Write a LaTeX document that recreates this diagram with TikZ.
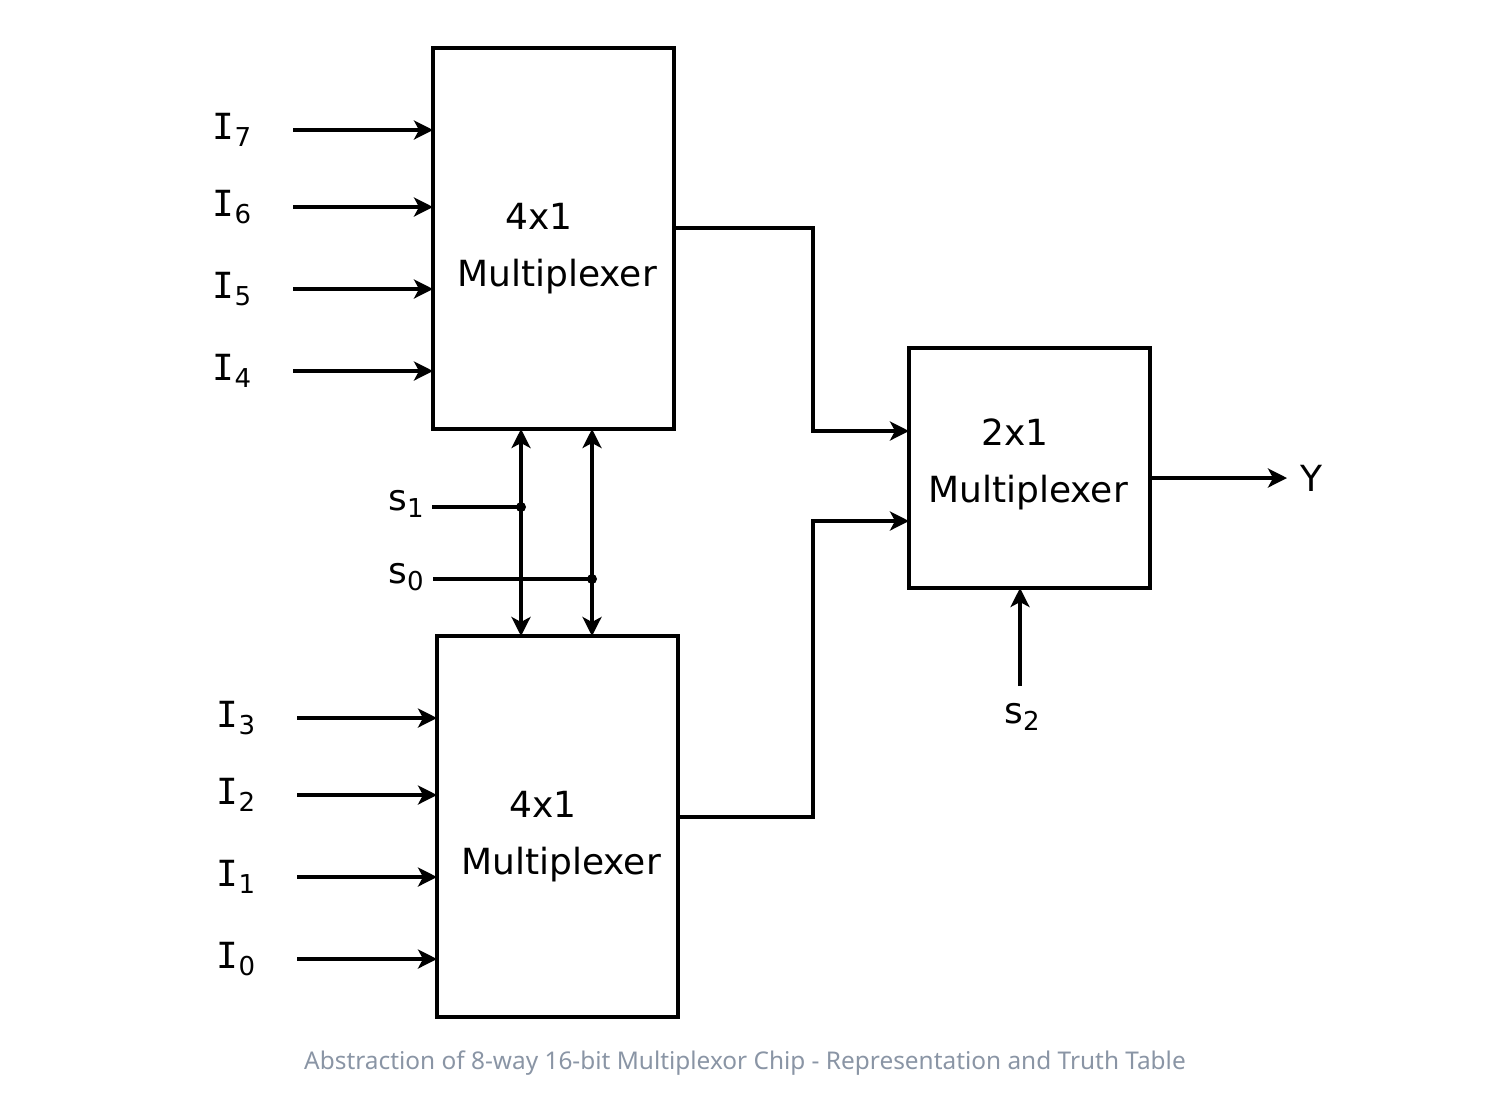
\documentclass[tikz,border=0pt]{standalone}
\usepackage{fontspec}
\setmainfont{DejaVu Sans}
\newfontfamily\capfont{Noto Sans}
\newfontfamily\serifi{DejaVu Sans Mono}
\usetikzlibrary{arrows.meta}
\definecolor{capgray}{HTML}{8A95A5}
\newcommand\sig[2]{#1\raisebox{-3.5pt}{\fontsize{13}{13}\selectfont #2}}
\begin{document}
\begin{tikzpicture}[x=0.5pt,y=-0.5pt,
  wire/.style={line width=1.8pt},
  arr/.style={wire,-{Stealth[length=9.5pt,width=9.5pt,inset=2.5pt]}},
  dblarr/.style={wire,{Stealth[length=9.5pt,width=9.5pt,inset=2.5pt]}-{Stealth[length=9.5pt,width=9.5pt,inset=2.5pt]}},
  muxbox/.style={draw,line width=1.8pt,inner sep=0pt,outer sep=0pt},
  txt/.style={font=\fontsize{18}{18}\selectfont,inner sep=0pt},
  lbl/.style={font=\fontsize{18}{18}\selectfont,inner sep=0pt},
  dot/.style={circle,fill,inner sep=0pt,minimum size=5pt}]
\useasboundingbox (0,0) rectangle (1502,1104);
% boxes
\node[muxbox,minimum width=120.5pt,minimum height=190.5pt] (top) at (553.5,238.5) {};
\node[muxbox,minimum width=120.5pt,minimum height=190.5pt] (bot) at (557.5,826.5) {};
\node[muxbox,minimum width=120.5pt,minimum height=120pt] (rgt) at (1029.5,468) {};
\node[txt] (t1) at (539,216) {4x1};
\node[txt] (t2) at (557,277) {Multiplexer};
\node[txt] (b1) at (543,804) {4x1};
\node[txt] (b2) at (561,865) {Multiplexer};
\node[txt] (r1) at (1015,432) {2x1};
\node[txt] (r2) at (1028,493) {Multiplexer};
% top inputs
\foreach \n/\y in {7/130,6/207,5/289,4/371}{
  \node[lbl] (I\n) at (232,\y) {\sig{{\serifi I}}{\n}};
  \coordinate (c\n) at (293,\y);
  \draw[arr] (c\n) -- (c\n -| top.west);
}
\foreach \n/\y in {3/718,2/795,1/877,0/959}{
  \node[lbl] (I\n) at (236,\y) {\sig{{\serifi I}}{\n}};
  \coordinate (c\n) at (297,\y);
  \draw[arr] (c\n) -- (c\n -| bot.west);
}
% outputs of 4x1 to 2x1
\coordinate (o1) at (674,228);
\coordinate (o2) at (678,817);
\coordinate (in1) at (909,431);
\coordinate (in2) at (909,521);
\draw[arr] (o1) -| (813,431) -- (in1);
\draw[arr] (o2) -| (813,521) -- (in2);
% output Y
\coordinate (yo) at (1150,478);
\coordinate (ye) at (1287,478);
\node[lbl,anchor=west] (Y) at (1300,478) {Y};
\draw[arr] (yo) -- (ye);
% s2
\node[lbl] (s2) at (1022,717) {\sig{s}{2}};
\coordinate (s2s) at (1020,686);
\draw[arr] (s2s) -- (s2s |- rgt.south);
% select lines
\coordinate (v1t) at (521,429);
\coordinate (v1b) at (521,636);
\coordinate (v2t) at (592,429);
\coordinate (v2b) at (592,636);
\draw[dblarr] (v1t) -- (v1b);
\draw[dblarr] (v2t) -- (v2b);
\node[lbl] (s1) at (406,504) {\sig{s}{1}};
\node[lbl] (s0) at (406,577) {\sig{s}{0}};
\coordinate (s1s) at (432,507);
\coordinate (s0s) at (433,579);
\node[dot] (d1) at (521,507) {};
\node[dot] (d0) at (592,579) {};
\draw[wire] (s1s) -- (d1.center);
\draw[wire] (s0s) -- (d0.center);
% caption
\node[font=\capfont\fontsize{12.2}{12.2}\selectfont,text=capgray,inner sep=0pt] (cap) at (745,1063) {Abstraction of 8-way 16-bit Multiplexor Chip - Representation and Truth Table};
\end{tikzpicture}
\end{document}
